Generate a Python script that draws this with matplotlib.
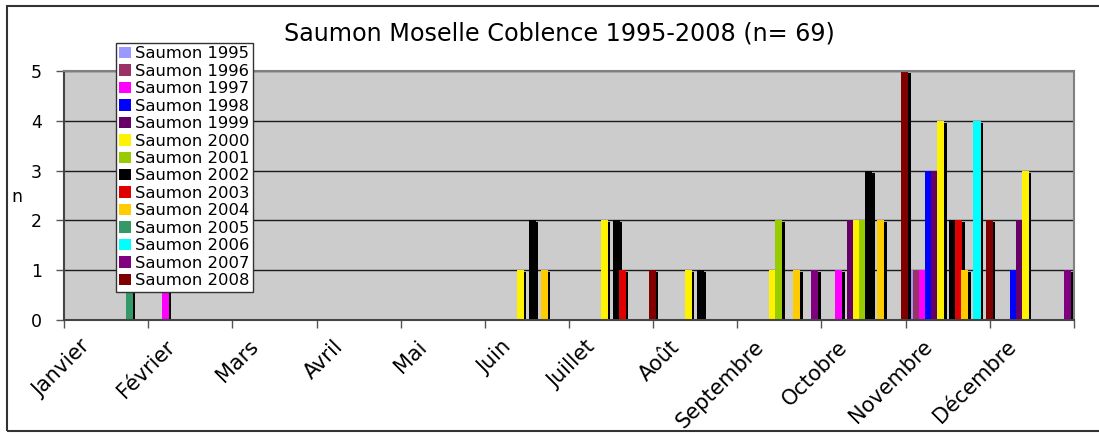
import matplotlib

matplotlib.use("Agg")
import matplotlib.pyplot as plt
import numpy as np
from matplotlib.patches import Rectangle
from matplotlib.transforms import ScaledTranslation

plt.rcParams["font.family"] = ["DejaVu Sans"]

MONTHS = ["Janvier", "Février", "Mars", "Avril", "Mai", "Juin", "Juillet",
          "Août", "Septembre", "Octobre", "Novembre", "Décembre"]
YEARS = list(range(1995, 2009))
COLORS = ["#9999FF", "#993366", "#FF00FF", "#0000FF", "#660066", "#FFF200",
          "#99CC00", "#000000", "#E00000", "#FFCC00", "#339966", "#00FFFF",
          "#800080", "#800000"]

# monthly counts per year (Jan..Dec)
s1995 = [0, 0, 0, 0, 0, 0, 0, 0, 0, 0, 1, 0]
s1996 = [0, 0, 0, 0, 0, 0, 0, 0, 0, 0, 1, 0]
s1997 = [0, 1, 0, 0, 0, 0, 0, 0, 0, 1, 1, 0]
s1998 = [0, 0, 0, 0, 0, 0, 0, 0, 0, 0, 3, 1]
s1999 = [0, 0, 0, 0, 0, 0, 0, 0, 0, 2, 3, 2]
s2000 = [0, 0, 0, 0, 0, 1, 2, 1, 1, 2, 4, 3]
s2001 = [0, 0, 0, 0, 0, 0, 0, 0, 2, 2, 0, 0]
s2002 = [0, 0, 0, 0, 0, 2, 2, 1, 0, 3, 2, 0]
s2003 = [0, 0, 0, 0, 0, 0, 1, 0, 0, 0, 2, 0]
s2004 = [0, 0, 0, 0, 0, 1, 0, 0, 1, 2, 1, 0]
s2005 = [1, 0, 0, 0, 0, 0, 0, 0, 0, 0, 0, 0]
s2006 = [0, 0, 0, 0, 0, 0, 0, 0, 0, 0, 4, 0]
s2007 = [0, 0, 0, 0, 0, 0, 0, 0, 1, 0, 0, 1]
s2008 = [0, 0, 0, 0, 0, 0, 1, 0, 0, 5, 2, 0]
SERIES = [s1995, s1996, s1997, s1998, s1999, s2000, s2001, s2002, s2003,
          s2004, s2005, s2006, s2007, s2008]

W, H = 1099, 438
fig = plt.figure(figsize=(W / 100, H / 100), dpi=100)
ax = fig.add_axes([64 / W, 1 - 320 / H, (1074 - 64) / W, (320 - 71) / H])
ax.set_facecolor("#CCCCCC")

n = len(SERIES)
step = 1.0 / n
bw = 7 / 84.1
sdx, sdy = 2.4 / 84.1, 0.04
x0 = np.arange(12) + 1.7 / 84.1
for i, (vals, col) in enumerate(zip(SERIES, COLORS)):
    v = np.array(vals, dtype=float)
    left = x0 + i * step
    ax.bar(left + sdx, v, width=bw, bottom=-sdy, align="edge",
           color="black", linewidth=0, zorder=2)
    ax.bar(left, v, width=bw, align="edge", color=col, linewidth=0,
           zorder=2, label=f"Saumon {YEARS[i]}")

ax.set_xlim(0, 12)
ax.set_ylim(0, 5)
ax.set_yticks(range(6))
ax.yaxis.grid(True, color="#1a1a1a", lw=1.0, zorder=1)
ax.set_axisbelow(True)
ax.tick_params(axis="y", length=6, width=1, color="#555555", labelsize=12.5,
               pad=10)

ax.set_xticks(range(13))
ax.set_xticklabels([])
ax.tick_params(axis="x", which="major", length=6, width=1, color="#555555")
ax.set_xticks(np.arange(12) + 0.5, minor=True)
ax.set_xticklabels(MONTHS, minor=True, rotation=45, ha="right",
                   rotation_mode="anchor", fontsize=15)
ax.tick_params(axis="x", which="minor", length=0, pad=12)
off = ScaledTranslation(-26 / 100, 0, fig.dpi_scale_trans)
for lbl in ax.get_xticklabels(minor=True):
    lbl.set_transform(lbl.get_transform() + off)

for side in ("left", "bottom"):
    ax.spines[side].set_color("#444444")
    ax.spines[side].set_linewidth(1.5)
for side in ("top", "right"):
    ax.spines[side].set_color("#808080")
    ax.spines[side].set_linewidth(1.5)

leg = ax.legend(loc="upper left", bbox_to_anchor=((116 - 64) / 1010, (320 - 43) / 249),
                borderaxespad=0, fontsize=11.8, labelspacing=0.15,
                handlelength=0.7, handleheight=0.7, handletextpad=0.25,
                borderpad=0.2, fancybox=False, framealpha=1,
                edgecolor="#333333")
leg.get_frame().set_linewidth(1.0)
leg.set_zorder(5)

fig.text(559 / W, 1 - 34 / H, "Saumon Moselle Coblence 1995-2008 (n= 69)",
         ha="center", va="center", fontsize=17.2)
fig.text(17 / W, 1 - 197 / H, "n", ha="center", va="center", fontsize=12.5)

fig.patches.append(Rectangle((7 / W, 1 - 431 / H), (W + 10) / W, (431 - 6) / H,
                             transform=fig.transFigure, fill=False,
                             edgecolor="#333333", lw=1.5))

fig.savefig("out.png", dpi=100)
